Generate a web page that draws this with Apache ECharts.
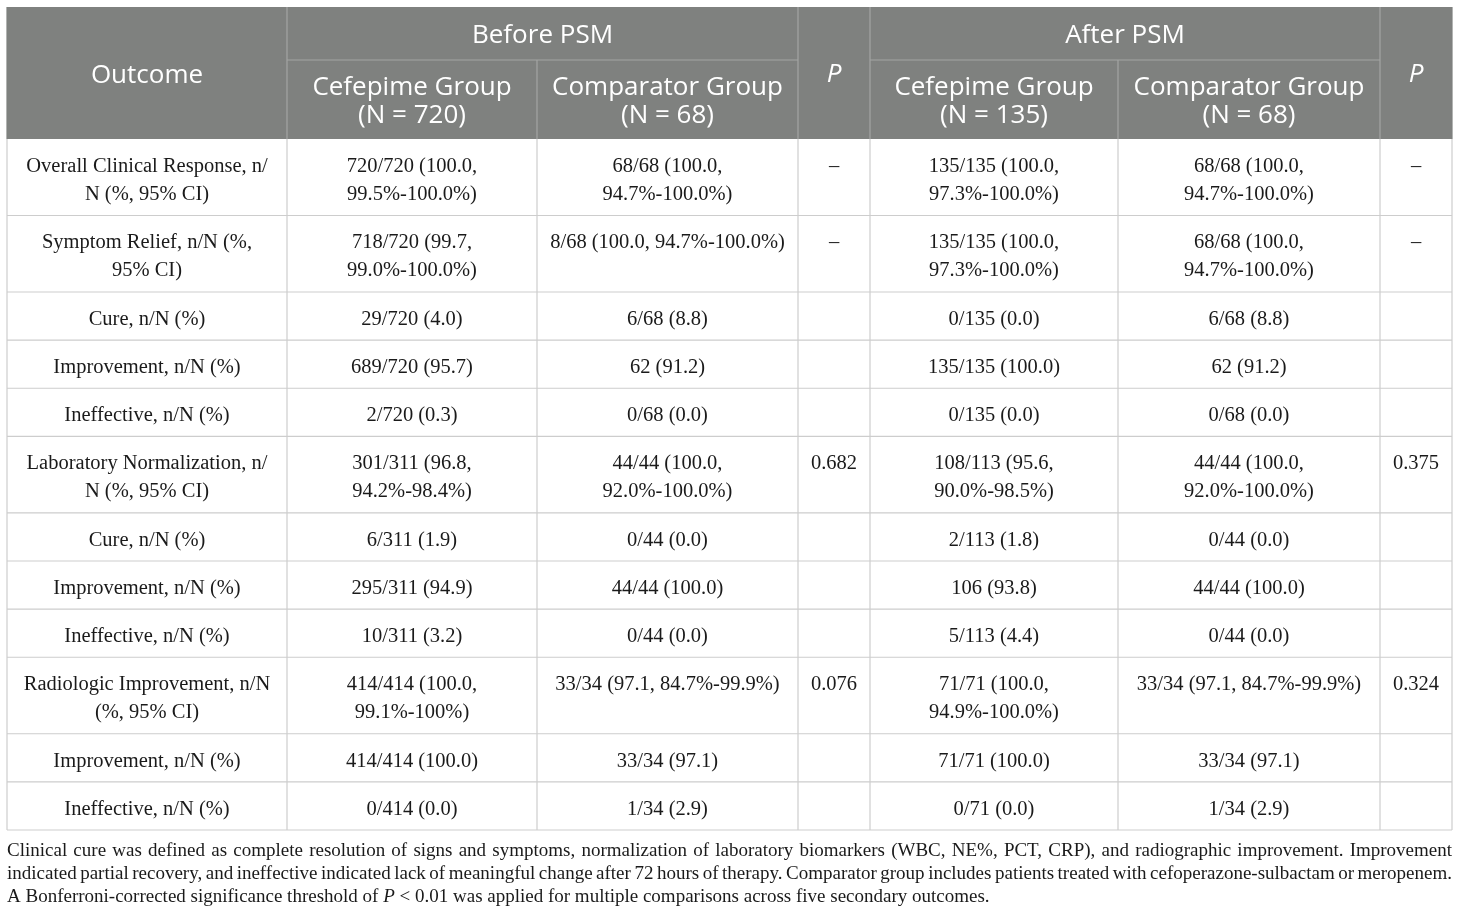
<!DOCTYPE html>
<html>
<head>
<meta charset="utf-8">
<script src="https://cdn.jsdelivr.net/npm/echarts@6/dist/echarts.min.js"></script>
<style>
  html, body { margin: 0; padding: 0; background: #fff; }
  #table { width: 1460px; height: 917px; }
</style>
</head>
<body>
<div id="table"></div>
<script>
// table content
var groupHeads = ['Before PSM', 'After PSM'];
var subHeads = ['Cefepime Group\n(N = 720)', 'Comparator Group\n(N = 68)', 'Cefepime Group\n(N = 135)', 'Comparator Group\n(N = 68)'];
var outcomes = [
  'Overall Clinical Response, n/\nN (%, 95% CI)',
  'Symptom Relief, n/N (%,\n95% CI)',
  'Cure, n/N (%)',
  'Improvement, n/N (%)',
  'Ineffective, n/N (%)',
  'Laboratory Normalization, n/\nN (%, 95% CI)',
  'Cure, n/N (%)',
  'Improvement, n/N (%)',
  'Ineffective, n/N (%)',
  'Radiologic Improvement, n/N\n(%, 95% CI)',
  'Improvement, n/N (%)',
  'Ineffective, n/N (%)'
];
var beforeCef = ['720/720 (100.0,\n99.5%-100.0%)', '718/720 (99.7,\n99.0%-100.0%)', '29/720 (4.0)', '689/720 (95.7)', '2/720 (0.3)',
  '301/311 (96.8,\n94.2%-98.4%)', '6/311 (1.9)', '295/311 (94.9)', '10/311 (3.2)',
  '414/414 (100.0,\n99.1%-100%)', '414/414 (100.0)', '0/414 (0.0)'];
var beforeComp = ['68/68 (100.0,\n94.7%-100.0%)', '8/68 (100.0, 94.7%-100.0%)', '6/68 (8.8)', '62 (91.2)', '0/68 (0.0)',
  '44/44 (100.0,\n92.0%-100.0%)', '0/44 (0.0)', '44/44 (100.0)', '0/44 (0.0)',
  '33/34 (97.1, 84.7%-99.9%)', '33/34 (97.1)', '1/34 (2.9)'];
var beforeP = ['–', '–', '', '', '', '0.682', '', '', '', '0.076', '', ''];
var afterCef = ['135/135 (100.0,\n97.3%-100.0%)', '135/135 (100.0,\n97.3%-100.0%)', '0/135 (0.0)', '135/135 (100.0)', '0/135 (0.0)',
  '108/113 (95.6,\n90.0%-98.5%)', '2/113 (1.8)', '106 (93.8)', '5/113 (4.4)',
  '71/71 (100.0,\n94.9%-100.0%)', '71/71 (100.0)', '0/71 (0.0)'];
var afterComp = ['68/68 (100.0,\n94.7%-100.0%)', '68/68 (100.0,\n94.7%-100.0%)', '6/68 (8.8)', '62 (91.2)', '0/68 (0.0)',
  '44/44 (100.0,\n92.0%-100.0%)', '0/44 (0.0)', '44/44 (100.0)', '0/44 (0.0)',
  '33/34 (97.1, 84.7%-99.9%)', '33/34 (97.1)', '1/34 (2.9)'];
var afterP = ['–', '–', '', '', '', '0.375', '', '', '', '0.324', '', ''];
var footLines = [
  'Clinical cure was defined as complete resolution of signs and symptoms, normalization of laboratory biomarkers (WBC, NE%, PCT, CRP), and radiographic improvement. Improvement',
  'indicated partial recovery, and ineffective indicated lack of meaningful change after 72 hours of therapy. Comparator group includes patients treated with cefoperazone-sulbactam or meropenem.'
];
var footLast = ['A Bonferroni-corrected significance threshold of ', 'P', ' < 0.01 was applied for multiple comparisons across five secondary outcomes.'];

var myChart = echarts.init(document.getElementById('table'), null, { renderer: 'canvas' });

// layout
var colX = [7, 287, 537, 798, 870, 1118, 1380, 1452];
var headTop = 7, headMid = 60, headBot = 139;
var headBg = '#7f817f';
var headLine = '#a3a5a3';
var gridLine = '#cdcdcd';
var serif = '"Liberation Serif", "DejaVu Serif", serif';
var sans = '"Open Sans", "Noto Sans", sans-serif';
var bodyFont = '20.5px ' + serif;
var headFont = '26px ' + sans;

var els = [];
function line(x1, y1, x2, y2, c) {
  els.push({ type: 'line', shape: { x1: x1, y1: y1, x2: x2, y2: y2 }, style: { stroke: c, lineWidth: 1.2 }, z: 10 });
}
function txt(s, x, y, font, color, va, lh) {
  if (!s) return;
  els.push({ type: 'text', x: x, y: y, style: { text: s, font: font, fill: color, align: 'center', verticalAlign: va, lineHeight: lh }, z: 20 });
}

// header
els.push({ type: 'rect', shape: { x: colX[0], y: headTop, width: colX[7] - colX[0], height: headBot - headTop }, style: { fill: headBg }, z: 1 });
txt('Outcome', (colX[0] + colX[1]) / 2, (headTop + headBot) / 2 + 3, headFont, '#fff', 'middle', 28);
txt(groupHeads[0], (colX[1] + colX[3]) / 2, (headTop + headMid) / 2 + 2, headFont, '#fff', 'middle', 28);
txt(groupHeads[1], (colX[4] + colX[6]) / 2, (headTop + headMid) / 2 + 2, headFont, '#fff', 'middle', 28);
var subCols = [1, 2, 4, 5];
subCols.forEach(function (c, i) {
  txt(subHeads[i], (colX[c] + colX[c + 1]) / 2, (headMid + headBot) / 2 + 2, headFont, '#fff', 'middle', 28);
});
txt('P', (colX[3] + colX[4]) / 2, (headTop + headBot) / 2 + 2, 'italic ' + headFont, '#fff', 'middle', 28);
txt('P', (colX[6] + colX[7]) / 2, (headTop + headBot) / 2 + 2, 'italic ' + headFont, '#fff', 'middle', 28);
line(colX[1], headMid, colX[3], headMid, headLine);
line(colX[4], headMid, colX[6], headMid, headLine);
[1, 3, 4, 6].forEach(function (c) { line(colX[c], headTop, colX[c], headBot, headLine); });
[2, 5].forEach(function (c) { line(colX[c], headMid, colX[c], headBot, headLine); });

// body
var cols = [outcomes, beforeCef, beforeComp, beforeP, afterCef, afterComp, afterP];
var y = headBot;
var rowTops = [];
outcomes.forEach(function (o, r) {
  var two = cols.some(function (c) { return c[r].indexOf('\n') >= 0; });
  var h = two ? 76.5 : 48.125;
  rowTops.push(y);
  cols.forEach(function (c, k) {
    txt(c[r], (colX[k] + colX[k + 1]) / 2, y + 13.5, bodyFont, '#1a1a1a', 'top', 28);
  });
  y += h;
});
var tableBot = y;
rowTops.slice(1).forEach(function (t) { line(colX[0], t, colX[7], t, gridLine); });
line(colX[0], tableBot, colX[7], tableBot, gridLine);
colX.forEach(function (x) { line(x, headBot, x, tableBot, gridLine); });
line(colX[0], headTop, colX[0], headBot, headBg);
line(colX[7], headTop, colX[7], headBot, headBg);

// footnote, justified lines
var footFont = '19px ' + serif;
var ctx = document.createElement('canvas').getContext('2d');
ctx.font = footFont;
var footY = [851, 874, 897];
footLines.forEach(function (s, i) {
  var words = s.split(' ');
  var total = 0;
  words.forEach(function (w) { total += ctx.measureText(w).width; });
  var gap = (colX[7] - colX[0] - total) / (words.length - 1);
  var x = colX[0];
  words.forEach(function (w) {
    els.push({ type: 'text', x: x, y: footY[i], style: { text: w, font: footFont, fill: '#1a1a1a', align: 'left', verticalAlign: 'middle' }, z: 20 });
    x += ctx.measureText(w).width + gap;
  });
});
els.push({
  type: 'text', x: colX[0], y: footY[2],
  style: {
    text: '{n|' + footLast[0] + '}{i|' + footLast[1] + '}{n|' + footLast[2] + '}',
    align: 'left', verticalAlign: 'middle',
    rich: {
      n: { font: footFont, fill: '#1a1a1a' },
      i: { font: 'italic ' + footFont, fill: '#1a1a1a' }
    }
  },
  z: 20
});

var option = {
  backgroundColor: '#fff',
  animation: false,
  graphic: { elements: els }
};
myChart.setOption(option);
</script>
</body>
</html>
